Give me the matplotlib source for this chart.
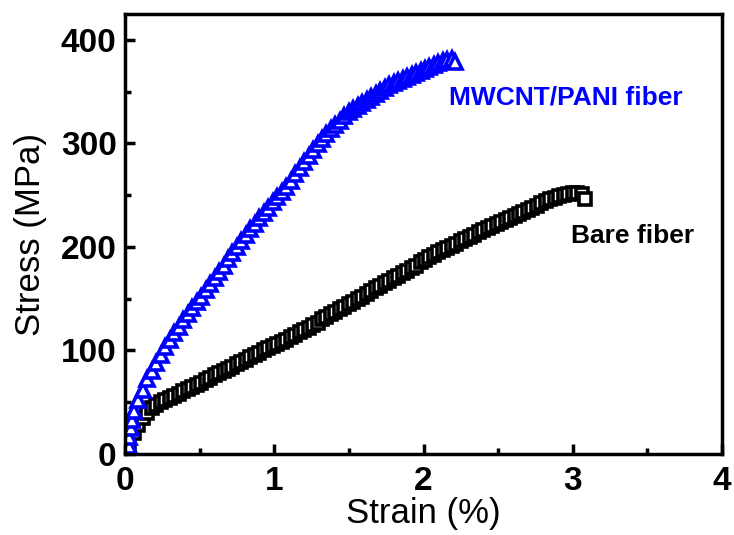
import matplotlib.pyplot as plt

# Bare fiber (black squares)
bare_strain = [0.00, 0.03, 0.06, 0.09, 0.12, 0.15, 0.18, 0.21, 0.24, 0.27,
               0.30, 0.33, 0.36, 0.39, 0.42, 0.45, 0.48, 0.51, 0.54, 0.57,
               0.60, 0.63, 0.66, 0.69, 0.72, 0.75, 0.78, 0.81, 0.84, 0.87,
               0.90, 0.93, 0.96, 0.99, 1.02, 1.05, 1.08, 1.11, 1.14, 1.17,
               1.20, 1.23, 1.26, 1.29, 1.32, 1.35, 1.38, 1.41, 1.44, 1.47,
               1.50, 1.53, 1.56, 1.59, 1.62, 1.65, 1.68, 1.71, 1.74, 1.77,
               1.80, 1.83, 1.86, 1.89, 1.92, 1.95, 1.98, 2.01, 2.04, 2.07,
               2.10, 2.13, 2.16, 2.19, 2.22, 2.25, 2.28, 2.31, 2.34, 2.37,
               2.40, 2.43, 2.46, 2.49, 2.52, 2.55, 2.58, 2.61, 2.64, 2.67,
               2.70, 2.73, 2.76, 2.79, 2.82, 2.85, 2.88, 2.91, 2.94, 2.97,
               3.00, 3.03, 3.06, 3.08]
bare_stress = [0, 10, 20, 28, 35, 40, 44, 47, 50, 52,
               54, 56, 58, 61, 63, 65, 67, 69, 71, 73,
               76, 78, 80, 82, 84, 87, 89, 91, 94, 96,
               98, 100, 102, 104, 106, 108, 110, 113, 115, 118,
               120, 122, 125, 127, 130, 132, 135, 137, 140, 142,
               145, 147, 150, 152, 155, 157, 160, 162, 165, 167,
               170, 172, 175, 177, 180, 182, 185, 187, 190, 192,
               195, 197, 199, 201, 203, 206, 208, 210, 212, 214,
               216, 218, 220, 222, 224, 226, 228, 230, 232, 234,
               236, 238, 240, 242, 244, 246, 247, 249, 250, 251,
               252, 252, 251, 246]

# MWCNT/PANI fiber (blue triangles)
pani_strain = [0.04, 0.03, 0.03, 0.04, 0.05, 0.06, 0.09, 0.12, 0.15, 0.18,
               0.21, 0.24, 0.27, 0.30, 0.33, 0.36, 0.39, 0.42, 0.45, 0.48,
               0.51, 0.54, 0.57, 0.60, 0.63, 0.66, 0.69, 0.72, 0.75, 0.78,
               0.81, 0.84, 0.87, 0.90, 0.93, 0.96, 0.99, 1.02, 1.05, 1.08,
               1.11, 1.14, 1.17, 1.20, 1.23, 1.26, 1.29, 1.32, 1.35, 1.38,
               1.41, 1.44, 1.47, 1.50, 1.53, 1.56, 1.59, 1.62, 1.65, 1.68,
               1.71, 1.74, 1.77, 1.80, 1.83, 1.86, 1.89, 1.92, 1.95, 1.98,
               2.01, 2.04, 2.07, 2.10, 2.13, 2.16, 2.19, 2.21]
pani_stress = [0, 8, 16, 25, 33, 42, 52, 62, 72, 80,
               88, 96, 103, 110, 117, 123, 129, 135, 141, 147,
               152, 158, 164, 170, 176, 182, 188, 194, 200, 206,
               212, 217, 222, 228, 233, 238, 243, 248, 253, 258,
               264, 270, 276, 282, 288, 294, 299, 304, 309, 314,
               318, 322, 326, 330, 333, 336, 339, 342, 345, 348,
               351, 354, 356, 358, 360, 362, 364, 366, 368, 370,
               372, 374, 376, 378, 380, 381, 382, 379]

plt.rcParams['font.family'] = ['Liberation Sans', 'DejaVu Sans']

fig = plt.figure(figsize=(7.34, 5.35), dpi=100)
ax = fig.add_axes([125 / 734, 81 / 535, 597 / 734, 440 / 535])

ax.plot(bare_strain, bare_stress, linestyle='none', marker='s', markersize=8,
        markerfacecolor='white', markeredgecolor='black', markeredgewidth=2.6)
ax.plot(pani_strain, pani_stress, linestyle='none', marker='^', markersize=10,
        markerfacecolor='white', markeredgecolor='#0000ff', markeredgewidth=2.6)

ax.text(2.17, 344, 'MWCNT/PANI fiber', color='#0000ff', fontsize=19,
        fontweight='bold', va='center', ha='left')
ax.text(2.99, 211, 'Bare fiber', color='black', fontsize=19,
        fontweight='bold', va='center', ha='left')

ax.set_xlim(0, 4)
ax.set_ylim(0, 425)
ax.set_xticks([0, 1, 2, 3, 4])
ax.set_xticks([0.5, 1.5, 2.5, 3.5], minor=True)
ax.set_yticks([0, 100, 200, 300, 400])
ax.set_yticks([50, 150, 250, 350], minor=True)

ax.set_xlabel('Strain (%)', fontsize=25, labelpad=0)
ax.set_ylabel('Stress (MPa)', fontsize=25, labelpad=10)

for s in ax.spines.values():
    s.set_linewidth(2.5)
ax.tick_params(which='major', direction='in', length=7, width=2.5,
               labelsize=24, top=False, right=False)
ax.tick_params(axis='x', which='major', pad=9)
ax.tick_params(axis='y', which='major', pad=6)
ax.tick_params(which='minor', direction='in', length=4, width=2.5,
               top=False, right=False)
for lab in ax.get_xticklabels() + ax.get_yticklabels():
    lab.set_fontweight('bold')

fig.savefig('out.png', dpi=100)
